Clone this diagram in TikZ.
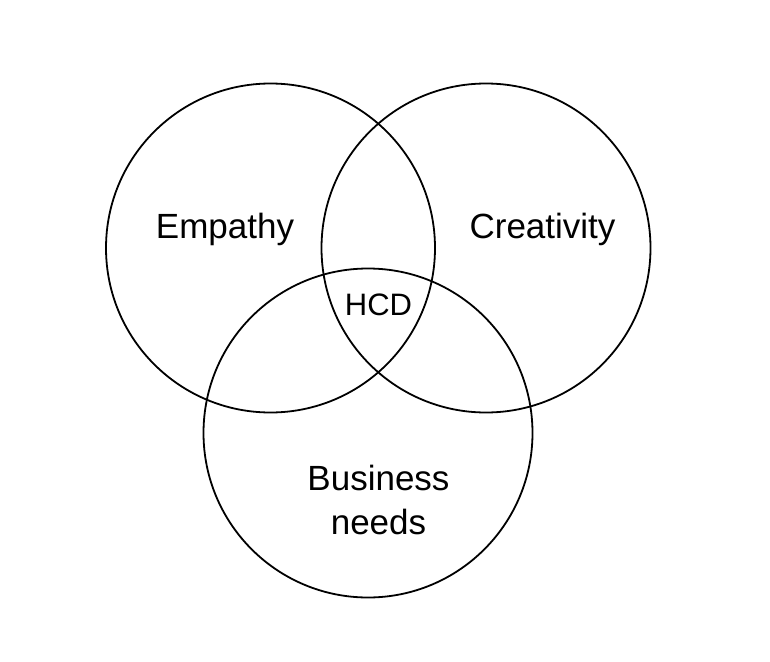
\documentclass[tikz,border=0pt]{standalone}
\usepackage{fontspec}
\setmainfont{Liberation Sans}

\tikzset{
  setring/.style={line width=1.8pt, draw=black},
  setlabel/.style={anchor=base, inner sep=0pt, font=\fontsize{35}{44}\selectfont},
  corelabel/.style={anchor=base, inner sep=0pt, font=\fontsize{31}{37}\selectfont}
}

\begin{document}
\begin{tikzpicture}[x=1pt, y=-1pt]

\useasboundingbox (0,0) rectangle (770,661);

% Centres of the three sets
\coordinate (E) at (270.5,248);
\coordinate (C) at (486,248);
\coordinate (B) at (368,433);

% Draw the sets
\foreach \c in {E, C, B} {
  \draw[setring] (\c) circle[radius=164.5];
}

% Labels
\node[setlabel] (empathy) at (225,238) {Empathy};
\node[setlabel] (creativity) at (542.5,238) {Creativity};
\node[setlabel, align=center] (business) at (378.5,534) {Business\\needs};
\node[corelabel] (hcd) at (378.5,315) {HCD};

\end{tikzpicture}
\end{document}
